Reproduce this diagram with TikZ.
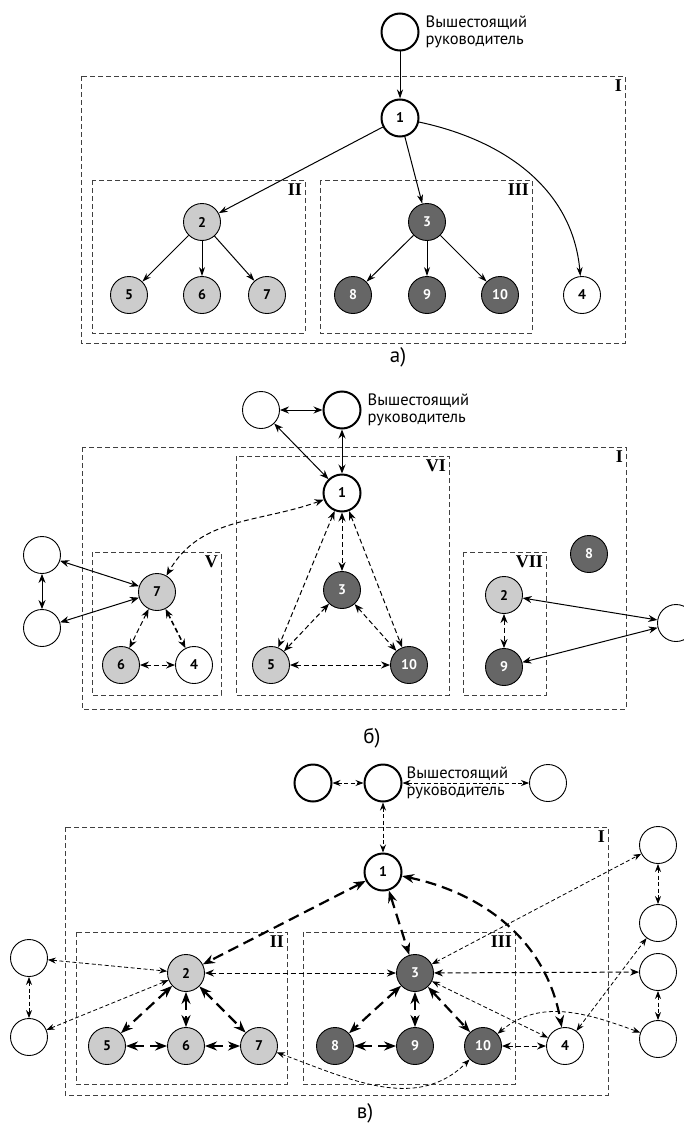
\documentclass[tikz,border=0pt]{standalone}
\usepackage{fontspec}
\setmainfont{PT Sans}
\newfontfamily\romanfont{Liberation Serif}
\usetikzlibrary{arrows.meta}
\pgfdeclarelayer{bg}
\pgfsetlayers{bg,main}
\definecolor{lgray}{gray}{0.8}
\definecolor{dgray}{gray}{0.4}
\tikzset{
        pers/.style={circle,draw,fill=white,minimum size=37pt,inner sep=0pt,line width=0.9pt,
                font=\fontsize{14}{14}\selectfont\bfseries},
        boss/.style={pers,line width=2pt},
        lite/.style={pers,fill=lgray},
        dark/.style={pers,fill=dgray,text=white},
        grp/.style={draw=black!75,line width=1pt,dash pattern=on 5pt off 3pt},
        grpname/.style={anchor=north east,inner sep=2pt,font=\romanfont\bfseries\fontsize{18}{18}\selectfont},
        ttl/.style={align=left,inner sep=0pt,font=\fontsize{16.5}{17}\selectfont},
        sublbl/.style={font=\fontsize{21}{21}\selectfont},
        ln/.style={line width=1pt,-{Stealth[length=9pt,width=6pt]}},
        lnn/.style={line width=1pt,{Stealth[length=9pt,width=7pt]}-{Stealth[length=9pt,width=7pt]}},
        dl/.style={line width=0.8pt,dash pattern=on 4pt off 2.5pt,{Stealth[length=8pt,width=6pt]}-{Stealth[length=8pt,width=6pt]}},
        dsh/.style={line width=1pt,dash pattern=on 5pt off 3pt,{Stealth[length=9pt,width=7pt]}-{Stealth[length=9pt,width=7pt]}},
        hd/.style={line width=2.2pt,dash pattern=on 11pt off 6pt,{Stealth[length=12pt,width=9pt]}-{Stealth[length=12pt,width=9pt]}}
}
\begin{document}
\begin{tikzpicture}[x=1pt,y=-1pt]
        \useasboundingbox (0,0) rectangle (683,1124);
        % a)
        \node (aT) [boss,label={[ttl,label distance=6pt]right:{Вышестоящий\\руководитель}}] at (400,32) {};
        \node (a1) [boss] at (400,118) {1};
        \node (a2) [lite] at (202,222) {2};
        \node (a3) [dark] at (427,222) {3};
        \node (a5) [lite] at (129,295) {5};
        \node (a6) [lite] at (202,295) {6};
        \node (a7) [lite] at (267,295) {7};
        \node (a8) [dark] at (353,295) {8};
        \node (a9) [dark] at (427,295) {9};
        \node (a10) [dark] at (500,295) {10};
        \node (a4) [pers] at (582,295) {4};
        \node (aI) [grpname] at (624,78) {I};
        \node (aII) [grpname] at (304,182) {II};
        \node (aIII) [grpname] at (531,182) {III};
        \node (capa) [sublbl] at (398,357) {а)};
        \begin{pgfonlayer}{bg}
                \draw [grp] (81,76) rectangle (625,343);
                \draw [grp] (92,180) rectangle (305,333);
                \draw [grp] (320,180) rectangle (532,333);
                \draw (aT) edge [ln] (a1);
                \draw (a1) edge [ln] (a2);
                \draw (a1) edge [ln] (a3);
                \draw (a1) edge [ln,out=-12,in=95] (a4);
                \draw (a2) edge [ln] (a5);
                \draw (a2) edge [ln] (a6);
                \draw (a2) edge [ln] (a7);
                \draw (a3) edge [ln] (a8);
                \draw (a3) edge [ln] (a9);
                \draw (a3) edge [ln] (a10);
        \end{pgfonlayer}
        % b)
        \node (bL) [pers] at (261,410) {};
        \node (bT) [boss,label={[ttl,label distance=6pt]right:{Вышестоящий\\руководитель}}] at (342,410) {};
        \node (b1) [boss] at (342,493) {1};
        \node (b7) [lite] at (157,592) {7};
        \node (b6) [lite] at (121,665) {6};
        \node (b4) [pers] at (194,665) {4};
        \node (bX1) [pers] at (42,555) {};
        \node (bX2) [pers] at (42,628) {};
        \node (b3) [dark] at (342,590) {3};
        \node (b5) [lite] at (271,665) {5};
        \node (b10) [dark] at (409,665) {10};
        \node (b2) [lite] at (504,595) {2};
        \node (b9) [dark] at (504,667) {9};
        \node (b8) [dark] at (589,554) {8};
        \node (bY) [pers] at (676,623) {};
        \node (bI) [grpname] at (625,449) {I};
        \node (bVI) [grpname] at (448,458) {VI};
        \node (bV) [grpname] at (220,554) {V};
        \node (bVII) [grpname] at (545,554) {VII};
        \node (capb) [sublbl] at (372,738) {б)};
        \begin{pgfonlayer}{bg}
                \draw [grp] (82,447) rectangle (626,709);
                \draw [grp] (236,456) rectangle (449,695);
                \draw [grp] (92,552) rectangle (221,695);
                \draw [grp] (463,552) rectangle (546,695);
                \draw (bL) edge [lnn] (bT);
                \draw (bL) edge [lnn] (b1);
                \draw (bT) edge [lnn] (b1);
                \draw (b1) edge [dsh,out=200,in=60] (b7);
                \draw (b1) edge [dsh] (b3);
                \draw (b1) edge [dsh] (b5);
                \draw (b1) edge [dsh] (b10);
                \draw (b3) edge [dsh] (b5);
                \draw (b3) edge [dsh] (b10);
                \draw (b5) edge [dsh] (b10);
                \draw (b7) edge [dsh] (b6);
                \draw (b7) edge [dsh,line width=1.6pt] (b4);
                \draw (b6) edge [dsh] (b4);
                \draw (bX1) edge [lnn] (b7);
                \draw (bX2) edge [lnn] (b7);
                \draw (bX1) edge [lnn] (bX2);
                \draw (b2) edge [dsh] (b9);
                \draw (b2) edge [lnn] (bY);
                \draw (b9) edge [lnn] (bY);
        \end{pgfonlayer}
        % c)
        \node (cW1) [boss] at (313,783) {};
        \node (cT) [boss,label={[ttl,label distance=4pt]right:{Вышестоящий\\руководитель}}] at (383,783) {};
        \node (cW2) [pers] at (548,783) {};
        \node (c1) [boss] at (383,872) {1};
        \node (c2) [lite] at (186,973) {2};
        \node (c3) [dark] at (415,973) {3};
        \node (c5) [lite] at (107,1046) {5};
        \node (c6) [lite] at (186,1046) {6};
        \node (c7) [lite] at (259,1046) {7};
        \node (c8) [dark] at (335,1046) {8};
        \node (c9) [dark] at (415,1046) {9};
        \node (c10) [dark] at (483,1046) {10};
        \node (c4) [pers] at (565,1046) {4};
        \node (cX1) [pers] at (29,958) {};
        \node (cX2) [pers] at (29,1037) {};
        \node (cY1) [pers] at (658,845) {};
        \node (cY2) [pers] at (658,923) {};
        \node (cY3) [pers] at (658,972) {};
        \node (cY4) [pers] at (658,1039) {};
        \node (cI) [grpname] at (607,829) {I};
        \node (cII) [grpname] at (286,934) {II};
        \node (cIII) [grpname] at (514,934) {III};
        \node (capc) [sublbl] at (365,1113) {в)};
        \begin{pgfonlayer}{bg}
                \draw [grp] (65,827) rectangle (608,1095);
                \draw [grp] (76,932) rectangle (287,1084);
                \draw [grp] (303,932) rectangle (515,1084);
                \draw (cW1) edge [dl] (cT);
                \draw (cT) edge [dl] (cW2);
                \draw (cT) edge [dl] (c1);
                \draw (c1) edge [hd] (c2);
                \draw (c1) edge [hd] (c3);
                \draw (c1) edge [hd,out=-12,in=100] (c4);
                \draw (c2) edge [hd] (c5);
                \draw (c2) edge [hd] (c6);
                \draw (c2) edge [hd] (c7);
                \draw (c5) edge [hd] (c6);
                \draw (c6) edge [hd] (c7);
                \draw (c3) edge [hd] (c8);
                \draw (c3) edge [hd] (c9);
                \draw (c3) edge [hd] (c10);
                \draw (c8) edge [hd] (c9);
                \draw (c2) edge [dsh] (c3);
                \draw (c3) edge [dsh] (cY3);
                \draw (cX1) edge [dl] (c2);
                \draw (cX2) edge [dl] (c2);
                \draw (cX1) edge [dl] (cX2);
                \draw (c3) edge [dl] (cY1);
                \draw (c3) edge [dl] (c4);
                \draw (c10) edge [dsh] (c4);
                \draw (c4) edge [dl] (cY2);
                \draw (c10) edge [dl,out=40,in=160] (cY4);
                \draw (c7) edge [dl,out=-20,in=225] (c10);
                \draw (cY1) edge [dl] (cY2);
                \draw (cY3) edge [dl] (cY4);
        \end{pgfonlayer}
\end{tikzpicture}
\end{document}
